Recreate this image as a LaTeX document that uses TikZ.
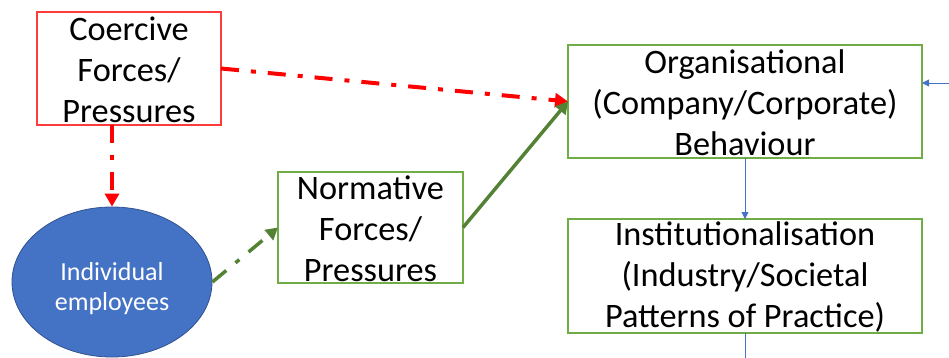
\documentclass[tikz,border=0pt]{standalone}
\usepackage{fontspec}
\setmainfont{Carlito}
\usetikzlibrary{arrows.meta,shapes.geometric}
\definecolor{cred}{HTML}{FF0000}
\definecolor{boxred}{HTML}{FF3B3B}
\definecolor{boxgreen}{HTML}{70AD47}
\definecolor{dkgreen}{HTML}{548235}
\definecolor{eblue}{HTML}{4472C4}
\definecolor{eborder}{HTML}{2F528F}
\tikzset{
  bigtext/.style={font=\fontsize{34.3}{41}\selectfont, align=center, inner sep=0pt},
  redbox/.style={draw=boxred, line width=1.2pt, fill=white},
  greenbox/.style={draw=boxgreen, line width=1.2pt, fill=white},
  reddash/.style={draw=cred, line width=4pt, dash pattern=on 18pt off 12pt on 5pt off 12pt, -{Triangle[length=13pt,width=14pt]}},
  greendash/.style={draw=dkgreen, line width=3.5pt, dash pattern=on 18pt off 12pt on 5pt off 12pt, -{Triangle[length=12pt,width=13pt]}},
  greensolid/.style={draw=dkgreen, line width=3.5pt, -{Triangle[length=12pt,width=13pt]}},
  bluearrow/.style={draw=eblue, line width=0.8pt, -{Triangle[length=7pt,width=7pt]}},
  blueline/.style={draw=eblue, line width=0.8pt}
}
\begin{document}
\begin{tikzpicture}[x=1pt,y=-1pt]
\useasboundingbox (0,0) rectangle (949,358);
% boxes
\draw[redbox] (37,12) rectangle (221,125);
\node[bigtext] (co) at (129,69.5) {Coercive\\Forces/\\Pressures};
\coordinate (coE) at (221,68.5);
\coordinate (coS) at (112,125);
\draw[greenbox] (568,45) rectangle (922,158);
\node[bigtext] (org) at (745,102.5) {Organisational\\(Company/Corporate)\\Behaviour};
\coordinate (orgW) at (568,101.5);
\coordinate (orgS) at (745,158);
\coordinate (orgE) at (922,83);
\draw[greenbox] (568,219) rectangle (922,333);
\node[bigtext] (inst) at (745,277) {Institutionalisation\\(Industry/Societal\\Patterns of Practice)};
\coordinate (instN) at (745,219);
\coordinate (instS) at (745,333);
\draw[greenbox] (278,172) rectangle (463,283);
\node[bigtext] (nor) at (370.5,228.5) {Normative\\Forces/\\Pressures};
\coordinate (norW) at (278,227.5);
\coordinate (norE) at (463,227.5);
% ellipse
\node[ellipse, fill=eblue, draw=eborder, line width=0.8pt, minimum width=200pt, minimum height=150pt, inner sep=0pt] (emp) at (112,282) {};
\node[font=\fontsize{26}{30}\selectfont, text=white, align=center] (empt) at (112,289) {Individual\\employees};
% free ends
\coordinate (rin) at (949,83);
\coordinate (bout) at (745,358);
% connectors
\draw[reddash] (coE) -- (orgW);
\draw[reddash] (coS) -- (emp.north);
\draw[greendash] (emp.east) -- (norW);
\draw[greensolid] (norE) -- (orgW);
\draw[bluearrow] (orgS) -- (instN);
\draw[bluearrow] (rin) -- (orgE);
\draw[blueline] (instS) -- (bout);
\end{tikzpicture}
\end{document}
